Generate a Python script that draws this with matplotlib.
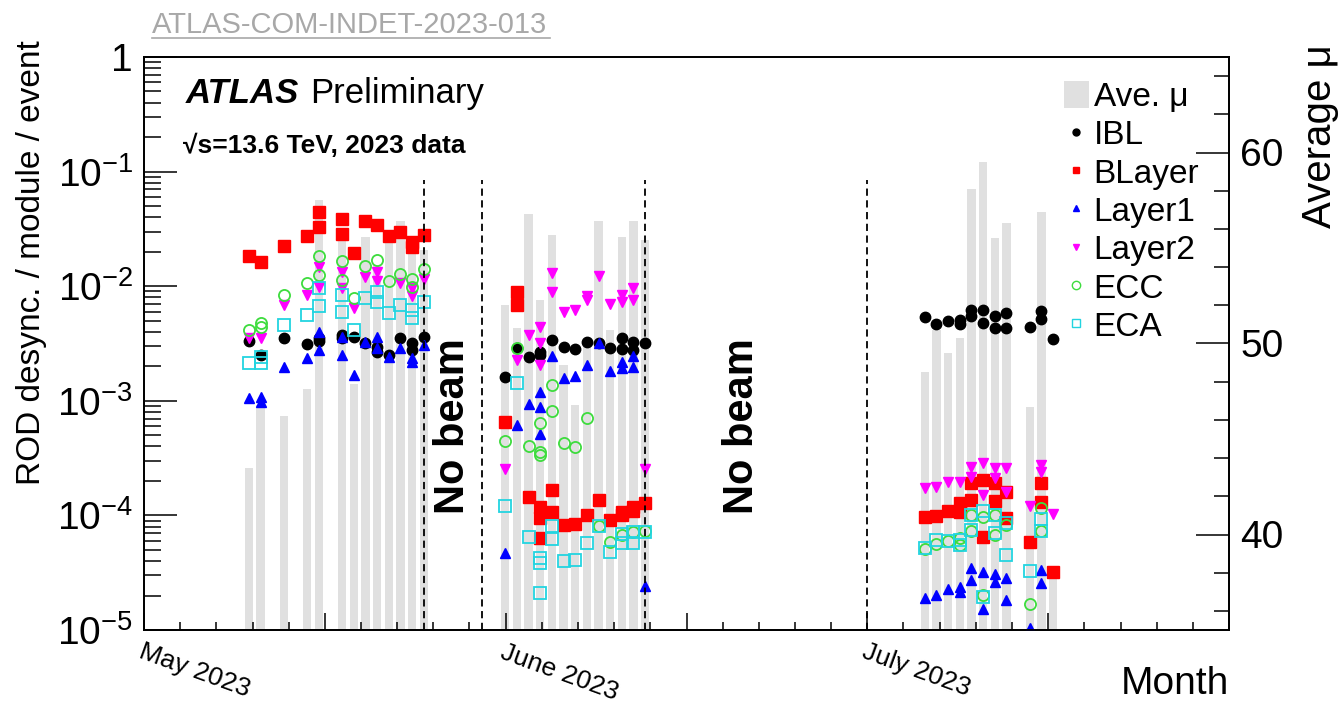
import numpy as np
import matplotlib
matplotlib.use("Agg")
import matplotlib.pyplot as plt
from matplotlib.lines import Line2D
from matplotlib.patches import Patch
from matplotlib.ticker import FixedLocator, FuncFormatter

plt.rcParams['font.family'] = ['Liberation Sans', 'DejaVu Sans']
plt.rcParams['mathtext.fontset'] = 'custom'
plt.rcParams['mathtext.rm'] = 'Liberation Sans'
plt.rcParams['mathtext.it'] = 'Liberation Sans:italic'
plt.rcParams['mathtext.bf'] = 'Liberation Sans:bold'

# x: days counted from the left edge of the time axis
# average pile-up per fill day
mu_day = [9, 10, 12, 14, 15, 17, 18, 19, 20, 21, 22, 23, 24,
          31, 32, 33, 34, 35, 36, 37, 38, 39, 40, 41, 42, 43,
          67, 68, 69, 70, 71, 72, 73, 74, 76, 77, 78]
mu_val = [43.5, 46.8, 46.2, 47.6, 57.5, 55.4, 47.9, 55.6, 54.1, 55.8, 56.4, 55.4, 54.9,
          52.0, 50.8, 56.8, 52.3, 55.7, 48.9, 46.8, 50.2, 56.4, 50.7, 55.6, 56.4, 55.4,
          48.5, 50.7, 49.5, 50.3, 58.1, 59.5, 55.5, 56.3, 46.7, 56.9, 37.8]

ibl_day = [9, 10, 12, 14, 15, 15, 17, 17, 18, 19, 20, 20, 21, 22, 23, 23, 24,
           31, 32, 33, 34, 34, 35, 36, 37, 38, 39, 40, 41, 41, 42, 42, 43,
           67, 68, 69, 70, 70, 71, 71, 72, 72, 73, 73, 74, 74, 76, 77, 77, 78]
ibl_val = [3.3e-3, 2.5e-3, 3.5e-3, 3.1e-3, 3.3e-3, 3.5e-3, 3.75e-3, 3.5e-3, 3.6e-3, 3.2e-3,
           2.95e-3, 2.67e-3, 2.5e-3, 3.5e-3, 3.2e-3, 2.77e-3, 3.6e-3,
           1.61e-3, 2.89e-3, 2.41e-3, 2.67e-3, 2.5e-3, 3.4e-3, 2.95e-3, 2.83e-3, 3.26e-3,
           3.19e-3, 2.89e-3, 3.53e-3, 2.83e-3, 3.26e-3, 2.77e-3, 3.19e-3,
           5.39e-3, 4.68e-3, 4.97e-3, 5.08e-3, 4.68e-3, 6.2e-3, 5.5e-3, 6.2e-3, 4.77e-3,
           5.5e-3, 4.32e-3, 5.84e-3, 4.32e-3, 4.4e-3, 6.08e-3, 5.17e-3, 3.46e-3]

blayer_day = [9, 10, 12, 14, 15, 15, 17, 17, 18, 19, 20, 21, 22, 23, 23, 24,
              31, 32, 32, 33, 34, 34, 34, 35, 35, 36, 37, 38, 39, 40, 41, 41, 42, 42, 43,
              67, 68, 69, 70, 70, 71, 71, 72, 72, 73, 73, 74, 74, 76, 77, 77, 78]
blayer_val = [1.83e-2, 1.63e-2, 2.24e-2, 2.74e-2, 4.44e-2, 3.29e-2, 3.86e-2, 2.85e-2, 1.95e-2,
              3.71e-2, 3.42e-2, 2.74e-2, 2.97e-2, 2.43e-2, 2.2e-2, 2.8e-2,
              6.53e-4, 8.9e-3, 6.85e-3, 1.45e-4, 1.18e-4, 9.5e-5, 6.35e-5, 1.67e-4, 1.07e-4,
              8.2e-5, 8.4e-5, 1.0e-4, 1.36e-4, 9.1e-5, 1.07e-4, 1.0e-4, 1.18e-4, 1.09e-4, 1.28e-4,
              9.7e-5, 9.9e-5, 1.09e-4, 1.28e-4, 1.07e-4, 1.92e-4, 1.36e-4, 2.04e-4, 6.5e-5,
              1.92e-4, 1.34e-4, 1.6e-4, 9.5e-5, 5.86e-5, 1.92e-4, 1.31e-4, 3.2e-5]

layer1_day = [9, 10, 10, 12, 14, 15, 15, 17, 17, 18, 19, 20, 20, 21, 22, 23, 23, 24,
              31, 32, 33, 34, 34, 34, 35, 36, 37, 38, 39, 40, 41, 41, 42, 42, 43,
              67, 68, 69, 70, 70, 71, 71, 72, 72, 73, 73, 74, 74, 76, 77, 77]
layer1_val = [1.06e-3, 1.08e-3, 9.8e-4, 1.97e-3, 2.36e-3, 2.77e-3, 4.0e-3, 2.5e-3, 3.6e-3,
              1.68e-3, 3.26e-3, 3.6e-3, 2.89e-3, 2.41e-3, 2.89e-3, 2.36e-3, 2.18e-3, 3.07e-3,
              4.7e-5, 6.15e-4, 9.4e-4, 1.19e-3, 8.8e-4, 5.13e-4, 2.46e-3, 1.58e-3, 1.65e-3,
              2.05e-3, 3.19e-3, 1.82e-3, 2.18e-3, 1.93e-3, 2.46e-3, 1.97e-3, 2.42e-5,
              1.9e-5, 2.02e-5, 2.28e-5, 2.37e-5, 2.15e-5, 3.48e-5, 2.73e-5, 3.21e-5, 1.52e-5,
              3.08e-5, 2.62e-5, 2.84e-5, 1.83e-5, 1.04e-5, 3.34e-5, 2.57e-5]

layer2_day = [9, 10, 12, 14, 15, 15, 17, 17, 18, 19, 20, 20, 22, 23, 23, 24,
              31, 32, 33, 34, 34, 34, 35, 35, 36, 37, 38, 38, 39, 40, 41, 41, 42, 42, 43,
              67, 68, 69, 70, 71, 71, 72, 72, 73, 73, 74, 74, 76, 77, 77, 78]
layer2_val = [3.5e-3, 3.5e-3, 6.85e-3, 8.38e-3, 1.47e-2, 9.8e-3, 1.33e-2, 9.6e-3, 6.45e-3,
              1.2e-2, 1.33e-2, 1.11e-2, 1.07e-2, 9.6e-3, 8.2e-3, 1.16e-2,
              2.54e-4, 2.27e-3, 3.75e-3, 4.4e-3, 3.19e-3, 2.05e-3, 1.3e-2, 8.9e-3, 5.96e-3,
              6.2e-3, 8.2e-3, 7.58e-3, 1.23e-2, 7.0e-3, 8.38e-3, 7.28e-3, 9.6e-3, 7.58e-3, 2.54e-4,
              1.73e-4, 1.77e-4, 1.96e-4, 1.96e-4, 2.64e-4, 2.16e-4, 2.87e-4, 1.51e-4, 2.59e-4,
              2.12e-4, 2.59e-4, 1.6e-4, 1.21e-4, 2.75e-4, 2.39e-4, 1.03e-4]

ecc_day = [9, 10, 10, 12, 14, 15, 15, 17, 17, 18, 19, 20, 21, 22, 23, 23, 24,
           31, 32, 33, 34, 34, 34, 35, 35, 36, 37, 38, 39, 40, 41, 42, 43,
           67, 68, 69, 70, 70, 71, 71, 72, 72, 73, 73, 74, 76, 77, 77]
ecc_val = [4.15e-3, 4.4e-3, 4.77e-3, 8.38e-3, 1.07e-2, 1.83e-2, 1.25e-2, 1.66e-2, 1.13e-2,
           7.89e-3, 1.5e-2, 1.69e-2, 1.11e-2, 1.28e-2, 1.16e-2, 9.8e-3, 1.41e-2,
           4.46e-4, 2.89e-3, 4.03e-4, 6.4e-4, 3.57e-4, 3.37e-4, 1.37e-3, 8.15e-4, 4.28e-4,
           3.95e-4, 7.08e-4, 8.1e-5, 5.86e-5, 6.74e-5, 7.16e-5, 7.3e-5,
           5.09e-5, 5.63e-5, 5.98e-5, 6.35e-5, 5.52e-5, 1.0e-4, 7.3e-5, 9.7e-5, 2.02e-5,
           1.0e-4, 6.74e-5, 8.2e-5, 1.69e-5, 1.16e-4, 7.3e-5]

eca_day = [9, 10, 10, 12, 14, 15, 15, 17, 17, 18, 19, 20, 20, 21, 22, 23, 23, 24,
           31, 32, 33, 34, 34, 34, 35, 35, 36, 37, 38, 39, 40, 41, 41, 42, 42, 43,
           67, 68, 69, 70, 70, 71, 71, 72, 72, 73, 73, 74, 74, 76, 77, 77]
eca_val = [2.14e-3, 2.14e-3, 2.41e-3, 4.59e-3, 5.61e-3, 6.72e-3, 9.64e-3, 8.38e-3, 5.96e-3,
           4.15e-3, 7.89e-3, 8.9e-3, 7.28e-3, 5.84e-3, 6.85e-3, 6.2e-3, 5.28e-3, 7.28e-3,
           1.21e-4, 1.43e-3, 6.5e-5, 4.25e-5, 3.84e-5, 2.1e-5, 8.1e-5, 6.22e-5, 4.0e-5,
           4.08e-5, 5.74e-5, 8.1e-5, 4.8e-5, 6.88e-5, 5.74e-5, 7.16e-5, 5.74e-5, 7.16e-5,
           5.2e-5, 6.1e-5, 5.98e-5, 6.1e-5, 5.52e-5, 1.0e-4, 7.46e-5, 1.09e-4, 1.94e-5,
           1.0e-4, 7.0e-5, 8.6e-5, 4.5e-5, 3.27e-5, 9.3e-5, 7.3e-5]

beam_gap_day = [24, 29, 43, 62]
no_beam_day = [26.5, 51.3]
month_labels = ['May 2023', 'June 2023', 'July 2023']
x_end = 93.1

fig = plt.figure(figsize=(13.43, 7.04), dpi=100)
ax = fig.add_axes([144 / 1343, 1 - 630 / 704, (1229 - 144) / 1343, (630 - 57) / 704])
ax2 = ax.twinx()
ax.set_zorder(ax2.get_zorder() + 1)
ax.patch.set_visible(False)

# average mu bars on the right axis
ax2.bar(mu_day, np.array(mu_val) - 35, bottom=35, width=0.72, color='#e0e0e0', linewidth=0)
ax2.set_ylim(35, 65)
ax2.yaxis.set_major_locator(FixedLocator([40, 50, 60]))
ax2.yaxis.set_minor_locator(FixedLocator(np.arange(36, 65, 2)))
ax2.tick_params(axis='y', which='major', direction='in', length=24, width=1.1, labelsize=28, pad=8)
ax2.tick_params(axis='y', which='minor', direction='in', length=11, width=1.1)

ms = dict(linestyle='none')
ax.plot(ibl_day, ibl_val, marker='o', color='black', markersize=7.5, **ms)
ax.plot(blayer_day, blayer_val, marker='s', color='#ff0000', markersize=8, **ms)
ax.plot(layer1_day, layer1_val, marker='^', color='#0000ff', markersize=7.5, **ms)
ax.plot(layer2_day, layer2_val, marker='v', color='#ff00ff', markersize=7.5, **ms)
ax.plot(ecc_day, ecc_val, marker='o', markerfacecolor='none', markeredgecolor='#3ddc3d',
        markeredgewidth=1.3, markersize=8, **ms)
ax.plot(eca_day, eca_val, marker='s', markerfacecolor='none', markeredgecolor='#22d4e0',
        markeredgewidth=1.3, markersize=8, **ms)

for d in beam_gap_day:
    ax.plot([d, d], [1e-5, 0.085], color='black', linestyle=(0, (4, 2.5)), linewidth=1.3)

for d in no_beam_day:
    ax.text(d, 6e-4, 'No beam', rotation=90, fontsize=30, fontweight='bold',
            ha='center', va='center')

ax.set_yscale('log')
ax.set_ylim(1e-5, 1)
ax.set_xlim(0, x_end)
ax.yaxis.set_major_formatter(FuncFormatter(
    lambda v, p: '1' if v >= 1 else r'$10^{%d}$' % int(round(np.log10(v)))))
ax.tick_params(axis='y', which='major', direction='in', length=24, width=1.1, labelsize=28, pad=8)
ax.tick_params(axis='y', which='minor', direction='in', length=12, width=1.1)

major_x = np.linspace(0, x_end, 7)
ax.set_xticks(major_x)
ax.set_xticks(np.linspace(0, x_end, 31), minor=True)
ax.set_xticklabels([month_labels[0], '', month_labels[1], '', month_labels[2], '', ''],
                   rotation=-20, ha='left', va='top', rotation_mode='anchor', fontsize=19)
ax.tick_params(axis='x', which='major', direction='in', length=12, width=1.1, pad=7)
ax.tick_params(axis='x', which='minor', direction='in', length=6, width=1.1)
ax2.tick_params(axis='x', which='both', length=0)

for a in (ax, ax2):
    for s in a.spines.values():
        s.set_linewidth(1.3)

fig.text(1229 / 1343, 1 - 684 / 704, 'Month', fontsize=28, ha='right', va='center')
fig.text(32 / 1343, 1 - 40 / 704, 'ROD desync. / module / event', rotation=90,
         fontsize=24, ha='center', va='top')
fig.text(1320 / 1343, 1 - 44 / 704, 'Average μ', rotation=90, fontsize=29, ha='center', va='top')

fig.text(186 / 1343, 1 - 103 / 704, 'ATLAS', fontsize=25, fontweight='bold', style='italic',
         ha='left', va='baseline')
fig.text(310 / 1343, 1 - 103 / 704, 'Preliminary', fontsize=25, ha='left', va='baseline')
fig.text(183 / 1343, 1 - 153 / 704, '√s=13.6 TeV, 2023 data', fontsize=19,
         fontweight='bold', ha='left', va='baseline')
fig.text(152 / 1343, 1 - 33 / 704, 'ATLAS-COM-INDET-2023-013', fontsize=21,
         color='#a8a8a8', ha='left', va='baseline')
fig.add_artist(Line2D([152 / 1343, 550 / 1343], [1 - 38 / 704, 1 - 38 / 704],
                      color='#a8a8a8', linewidth=1.2, transform=fig.transFigure))

handles = [Patch(facecolor='#e0e0e0', edgecolor='none'),
           Line2D([], [], marker='o', color='black', linestyle='none', markersize=5),
           Line2D([], [], marker='s', color='#ff0000', linestyle='none', markersize=5),
           Line2D([], [], marker='^', color='#0000ff', linestyle='none', markersize=5),
           Line2D([], [], marker='v', color='#ff00ff', linestyle='none', markersize=5),
           Line2D([], [], marker='o', markerfacecolor='none', markeredgecolor='#3ddc3d',
                  linestyle='none', markersize=6),
           Line2D([], [], marker='s', markerfacecolor='none', markeredgecolor='#22d4e0',
                  linestyle='none', markersize=6)]
labels = ['Ave. μ', 'IBL', 'BLayer', 'Layer1', 'Layer2', 'ECC', 'ECA']
ax.legend(handles, labels, loc='upper left', bbox_to_anchor=(1047 / 1343, 1 - 64 / 704),
          bbox_transform=fig.transFigure, frameon=False, fontsize=24, handlelength=0.75,
          handleheight=0.9, handletextpad=0.15, labelspacing=0.18, borderpad=0)

fig.savefig('out.png', dpi=100)
